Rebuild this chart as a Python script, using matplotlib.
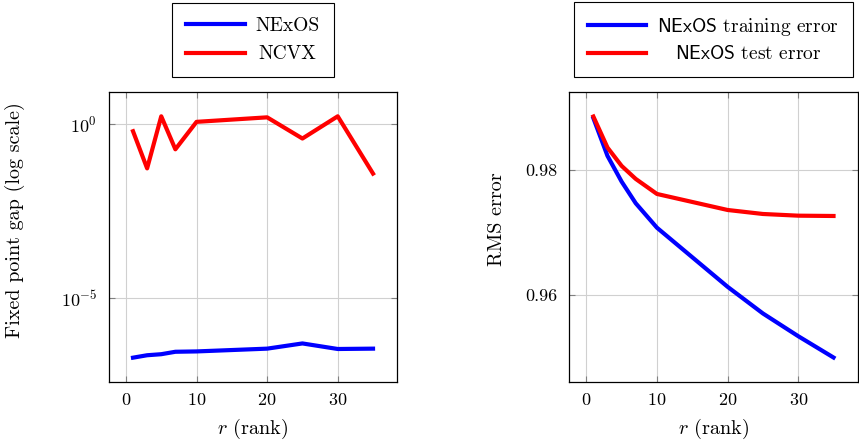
import numpy as np
import matplotlib
matplotlib.use("Agg")
from matplotlib import pyplot as plt

# ranks used in both panels
rank = [1, 3, 5, 7, 10, 20, 25, 30, 35]

# left panel: fixed point gap (log10 of value)
nexos_gap_log = [-6.73, -6.66, -6.63, -6.56, -6.55, -6.47, -6.32, -6.48, -6.47]
ncvx_gap_log = [-0.21, -1.28, 0.22, -0.73, 0.06, 0.19, -0.42, 0.22, -1.43]

# right panel: RMS error
train_err = [0.98827, 0.98224, 0.97813, 0.97467, 0.97077, 0.96133, 0.95707, 0.95344, 0.95003]
test_err = [0.98853, 0.98357, 0.98064, 0.97856, 0.97616, 0.9736, 0.97296, 0.97269, 0.97264]

left_labels = ["NExOS", "NCVX"]
right_labels = [r"$\mathsf{NExOS}$ training error", r"$\mathsf{NExOS}$ test error"]

plt.rcParams['font.family'] = ['cmr10', 'DejaVu Serif']
plt.rcParams['mathtext.fontset'] = 'cm'
plt.rcParams['axes.formatter.use_mathtext'] = True
plt.rcParams['axes.unicode_minus'] = False
plt.rcParams['font.size'] = 14


def style_axis(ax):
    ax.grid(True, color='#d0d0d0', linewidth=0.8)
    ax.set_axisbelow(True)
    ax.tick_params(direction='in', length=4, width=0.8, color='#808080',
                   top=True, right=True, which='major', labelsize=13)
    ax.tick_params(axis='y', pad=8.5)
    ax.tick_params(axis='x', pad=7.5)
    ax.tick_params(which='minor', left=False, right=False, bottom=False, top=False)
    for sp in ax.spines.values():
        sp.set_linewidth(0.9)
    ax.set_xticks([0, 10, 20, 30])
    ax.set_xlabel(r"$r$ (rank)", fontsize=14.5)
    ax.xaxis.set_label_coords(0.5, -0.12)


def center_legend_texts(fig, leg):
    # pgfplots centres legend entries; shift shorter labels by half the width gap
    fig.canvas.draw()
    r = fig.canvas.get_renderer()
    texts = leg.get_texts()
    widths = [t.get_window_extent(r).width for t in texts]
    wmax = max(widths)
    for t, w in zip(texts, widths):
        t.set_x(t.get_position()[0] + (wmax - w) / 2.0)


def add_legend(ax, labels, spacing):
    leg = ax.legend(labels, loc='lower center', bbox_to_anchor=(0.5, 1.05),
                    fancybox=False, edgecolor='black', framealpha=1,
                    handlelength=3.0, handletextpad=0.57, borderpad=0.72,
                    labelspacing=spacing, borderaxespad=0)
    leg.get_frame().set_linewidth(0.8)
    return leg


fig = plt.figure(figsize=(8.59, 4.45), dpi=100)
ax1 = fig.add_axes([0.1269, 0.1416, 0.3353, 0.6517])
ax2 = fig.add_axes([0.6628, 0.1416, 0.3355, 0.6517])

ax1.plot(rank, 10.0 ** np.array(nexos_gap_log), color='blue', lw=3)
ax1.plot(rank, 10.0 ** np.array(ncvx_gap_log), color='red', lw=3)
ax1.set_yscale('log')
ax1.set_yticks([1e-5, 1e0])
ax1.set_xlim(-2.4, 38.4)
ax1.set_ylim(10 ** -7.43, 10 ** 0.92)
ax1.set_ylabel("Fixed point gap (log scale)", fontsize=14.5)
ax1.yaxis.set_label_coords(-0.29, 0.56)
style_axis(ax1)
leg1 = add_legend(ax1, left_labels, 0.55)

ax2.plot(rank, train_err, color='blue', lw=3)
ax2.plot(rank, test_err, color='red', lw=3)
ax2.set_yticks([0.96, 0.98])
ax2.set_yticklabels(["0.96", "0.98"])
ax2.set_xlim(-2.4, 38.4)
ax2.set_ylim(0.94612, 0.99245)
ax2.set_ylabel("RMS error", fontsize=14.5)
ax2.yaxis.set_label_coords(-0.22, 0.56)
style_axis(ax2)
leg2 = add_legend(ax2, right_labels, 0.38)

center_legend_texts(fig, leg1)
center_legend_texts(fig, leg2)

fig.savefig("out.png", dpi=100)
